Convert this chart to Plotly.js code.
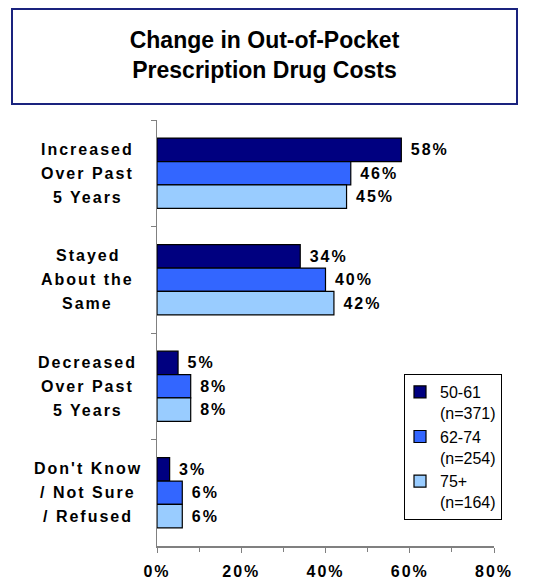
<!DOCTYPE html>
<html>
<head>
<meta charset="utf-8">
<script src="https://cdn.plot.ly/plotly-3.0.1.min.js"></script>
<style>
  html, body { margin: 0; padding: 0; background: #fff; }
  #chart { width: 533px; height: 579px; }
  .annotation-text, .bartext, .xtick text { letter-spacing: 2px; }
</style>
</head>
<body>
<div id="chart"></div>
<script>
// ---- data ----
const categories = [
  'Increased<br>Over Past<br>5 Years',
  'Stayed<br>About the<br>Same',
  'Decreased<br>Over Past<br>5 Years',
  "Don't Know<br>/ Not Sure<br>/ Refused"
];
const seriesNames = ['50-61<br>(n=371)', '62-74<br>(n=254)', '75+<br>(n=164)'];
const values5061 = [58, 34, 5, 3];
const values6274 = [46, 40, 8, 6];
const values75plus = [45, 42, 8, 6];
const xTickVals = [0, 20, 40, 60, 80];
const titleText = 'Change in Out-of-Pocket<br>Prescription Drug Costs';

// ---- styles ----
const colors = ['#000080', '#3366FF', '#99CCFF'];
const FONT = 'Arial, "Liberation Sans", Helvetica, sans-serif';
const seriesValues = [values5061, values6274, values75plus];

const traces = seriesValues.map((vals, i) => ({
  type: 'bar',
  orientation: 'h',
  name: seriesNames[i],
  x: vals,
  y: categories,
  marker: { color: colors[i], line: { color: '#000000', width: 1.2 } },
  text: vals.map(v => '\u00A0' + v + '%'),
  textposition: 'outside',
  constraintext: 'none',
  cliponaxis: false,
  textfont: { family: FONT, size: 16, color: '#000', weight: 'bold' },
  hoverinfo: 'skip'
}));

// category labels: one annotation per line, centred
const annotations = [];
categories.forEach(cat => {
  const lines = cat.split('<br>');
  const n = lines.length;
  lines.forEach((ln, j) => {
    annotations.push({
      xref: 'paper', yref: 'y',
      x: -0.205, y: cat,
      xanchor: 'center', yanchor: 'middle',
      yshift: ((n - 1) / 2 - j) * 24,
      text: ln,
      showarrow: false,
      font: { family: FONT, size: 16, color: '#000', weight: 'bold' }
    });
  });
});

const layout = {
  width: 533, height: 579,
  margin: { l: 157, r: 39, t: 120, b: 33 },
  paper_bgcolor: '#ffffff',
  plot_bgcolor: '#ffffff',
  barmode: 'group',
  bargap: 0.34,
  bargroupgap: 0,
  showlegend: true,
  title: {
    text: titleText,
    font: { family: FONT, size: 23, color: '#000', weight: 'bold' },
    x: 264.5 / 533, xref: 'container', xanchor: 'center',
    y: 1 - 48 / 579, yref: 'container', yanchor: 'middle'
  },
  xaxis: {
    range: [0, 80],
    tickvals: xTickVals,
    ticktext: xTickVals.map(v => v + '%'),
    ticks: 'outside', ticklen: 5, tickcolor: '#808080', tickwidth: 1,
    minor: { ticks: 'outside', dtick: 10, ticklen: 4, tickcolor: '#808080', tickwidth: 1 },
    showline: true, linecolor: '#808080', linewidth: 1.5,
    showgrid: false, zeroline: false,
    ticklabelstandoff: 5,
    tickfont: { family: FONT, size: 16, color: '#000', weight: 'bold' },
    fixedrange: true
  },
  yaxis: {
    type: 'category',
    categoryorder: 'array',
    categoryarray: categories,
    range: [3.5, -0.5],
    showticklabels: false,
    ticks: 'outside', tickson: 'boundaries', ticklen: 5, tickcolor: '#808080', tickwidth: 1,
    showline: true, linecolor: '#808080', linewidth: 1.5,
    showgrid: false, zeroline: false,
    fixedrange: true
  },
  legend: {
    x: (404 - 157) / 337, y: (546 - 374) / 426,
    xanchor: 'left', yanchor: 'top',
    bgcolor: '#ffffff',
    bordercolor: '#000000', borderwidth: 1,
    traceorder: 'normal',
    valign: 'top',
    indentation: -5,
    font: { family: FONT, size: 16, color: '#000' }
  },
  shapes: [{
    type: 'rect', xref: 'paper', yref: 'paper',
    x0: (12 - 157) / 337, x1: (517 - 157) / 337,
    y0: (546 - 104) / 426, y1: (546 - 9) / 426,
    line: { color: '#1a237e', width: 2 },
    fillcolor: 'rgba(0,0,0,0)'
  }],
  annotations: annotations
};

Plotly.newPlot('chart', traces, layout, { displayModeBar: false, staticPlot: true });
</script>
</body>
</html>
